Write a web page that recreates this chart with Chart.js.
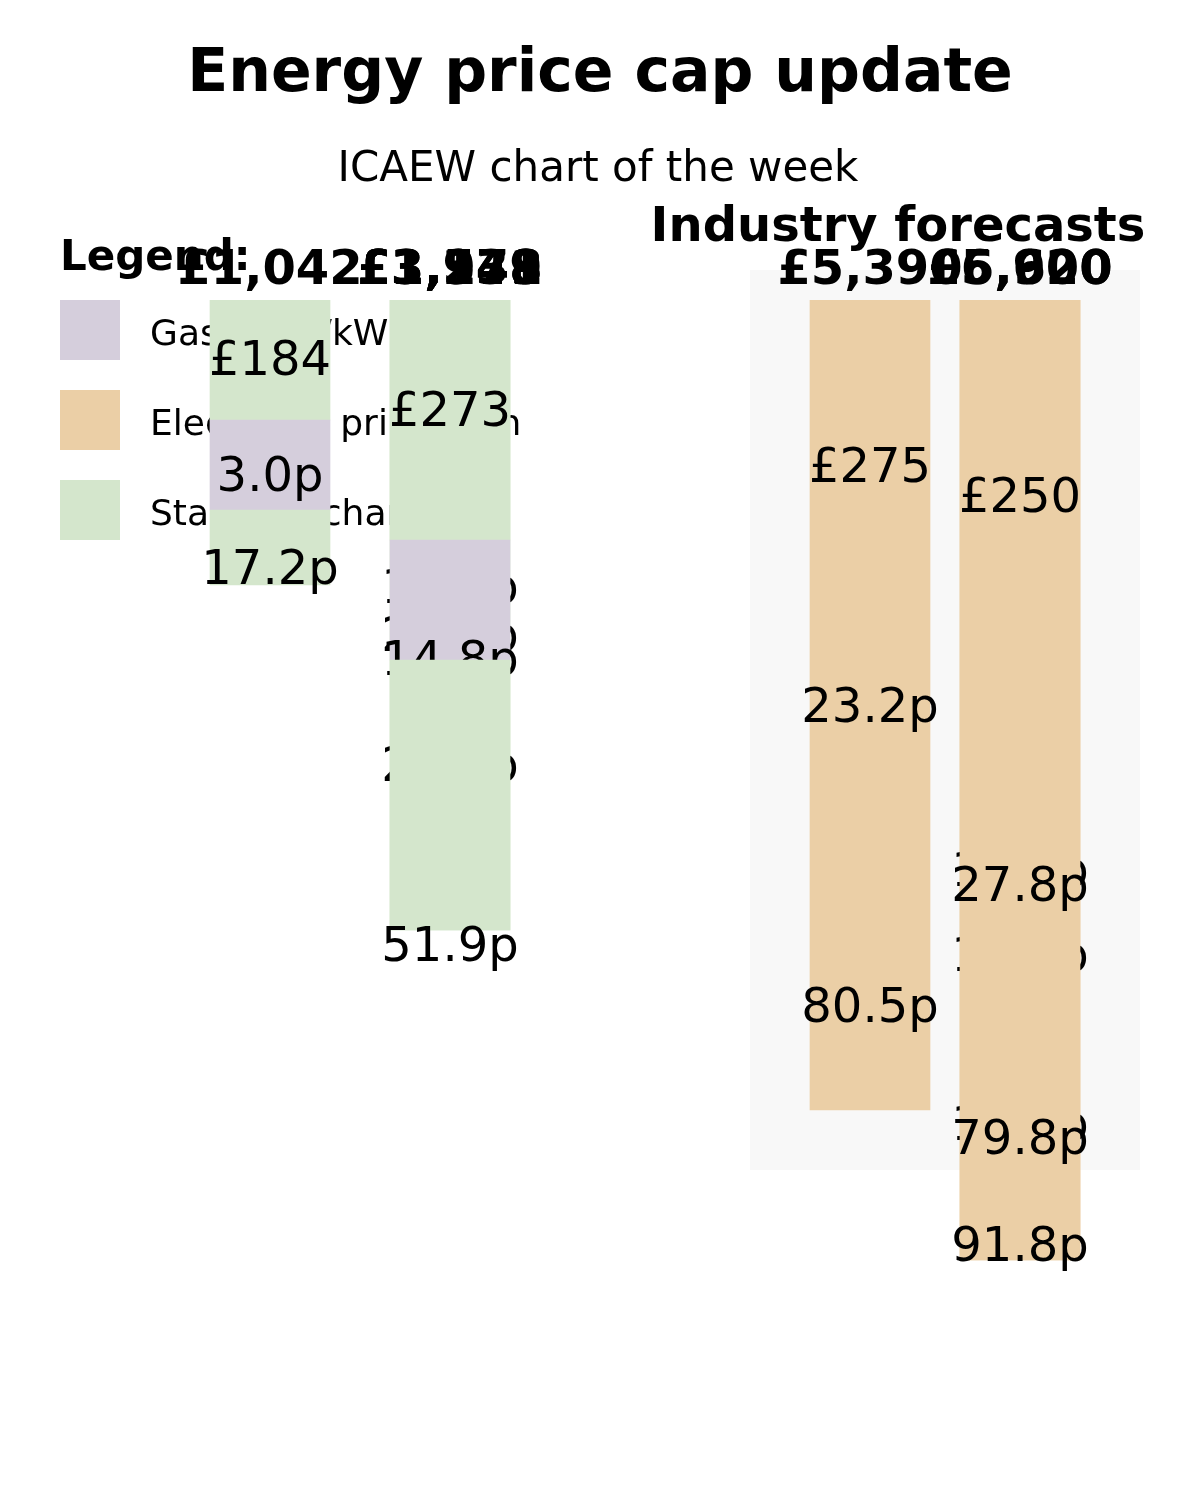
<!DOCTYPE html>
<html><head><meta charset="utf-8">
<script src="https://cdn.jsdelivr.net/npm/chart.js@4.4.1/dist/chart.umd.min.js"></script>
<style>html,body{margin:0;padding:0;background:#fff}#wrap{width:1200px;height:1500px;position:relative}</style>
</head><body><div id="wrap"><canvas id="c" width="1200" height="1500"></canvas></div>
<script>
// ---- data ----
const seriesNames = ['Gas price/kWh', 'Electricity price/kWh', 'Standing charge'];
const columnSlots = [9, 15, 29, 34];
const layerColumn = [0, 0, 0, 1, 1, 1, 1, 2, 3, 3];
const layerSeries = [2, 0, 2, 2, 2, 0, 2, 1, 1, 1];
const layerFrom = [0, 12, 21, 0, 0, 24, 36, 0, 0, 0];
const layerTo = [12, 21, 28.5, 63, 24, 36, 63, 81, 96, 96];
const layerTotals = ['£1,042', '', '', '£1,971', '£3,549', '£3,248', '£1,138', '£5,390', '£5,900', '£6,620'];
const layerLabelTexts = [['£184'], ['3.0p'], ['17.2p'], ['12.1p', '21.5p', '24.2p'], ['£273'], ['14.8p'], ['51.9p'],
  ['£275', '23.2p', '80.5p'], ['17.9p', '15.4p', '17.6p'], ['£250', '27.8p', '79.8p', '91.8p']];
const layerLabelDepths = [[5.7], [17.3], [26.6], [28.5, 33.3, 46.3], [10.8], [35.7], [64.3],
  [16.4, 40.4, 70.4], [56.8, 65.3, 82.2], [19.4, 58.3, 83.6, 94.3]];
const titleText = 'Energy price cap update';
const subtitleText = 'ICAEW chart of the week';
const panelTitle = 'Industry forecasts';
const legendTitle = 'Legend:';

// ---- styles ----
const seriesColors = ['#d5cedc', '#ebcfa6', '#d4e6cc'];
const FONT = '"DejaVu Sans", sans-serif';
const panelRange = { x0: 25, x1: 38, y0: -3, y1: 87 };

const N = layerFrom.length;
const datasets = layerFrom.map((f, i) => ({
  label: seriesNames[layerSeries[i]],
  data: [{ x: columnSlots[layerColumn[i]], y: [f, layerTo[i]] }],
  backgroundColor: seriesColors[layerSeries[i]],
  borderWidth: 0,
  barThickness: 120,
  grouped: false,
  order: N - i
}));

const overlay = {
  id: 'overlay',
  beforeDatasetsDraw(chart) {
    const ctx = chart.ctx, xs = chart.scales.x, ys = chart.scales.y;
    ctx.save();
    // forecast panel
    const px0 = xs.getPixelForValue(panelRange.x0), px1 = xs.getPixelForValue(panelRange.x1);
    const py0 = ys.getPixelForValue(panelRange.y0), py1 = ys.getPixelForValue(panelRange.y1);
    ctx.fillStyle = '#f8f8f8';
    ctx.fillRect(px0, py0, px1 - px0, py1 - py0);
    ctx.fillStyle = '#000';
    ctx.textAlign = 'center';
    ctx.textBaseline = 'alphabetic';
    ctx.font = 'bold 60px ' + FONT;
    ctx.fillText(titleText, 600, 91);
    ctx.font = '42px ' + FONT;
    ctx.fillText(subtitleText, 598, 181);
    ctx.font = 'bold 48px ' + FONT;
    ctx.fillText(panelTitle, 898, 241);
    // legend
    ctx.textAlign = 'left';
    ctx.font = 'bold 42px ' + FONT;
    ctx.fillText(legendTitle, 60, 270);
    ctx.font = '36px ' + FONT;
    seriesNames.forEach((n, k) => {
      const top = 300 + k * 90;
      ctx.fillStyle = seriesColors[k];
      ctx.fillRect(60, top, 60, 60);
      ctx.fillStyle = '#000';
      ctx.fillText(n, 150, top + 45);
    });
    ctx.restore();
  },
  afterDatasetDraw(chart, args) {
    const i = args.index;
    const el = args.meta.data[0];
    if (!el) return;
    const ctx = chart.ctx, ys = chart.scales.y;
    ctx.save();
    ctx.fillStyle = '#000';
    ctx.textAlign = 'center';
    ctx.textBaseline = 'alphabetic';
    ctx.font = '48px ' + FONT;
    layerLabelTexts[i].forEach((t, k) => {
      ctx.fillText(t, el.x, ys.getPixelForValue(layerLabelDepths[i][k]) + 17.5);
    });
    if (layerTotals[i]) {
      ctx.font = 'bold 48px ' + FONT;
      ctx.fillText(layerTotals[i], el.x, ys.getPixelForValue(0) - 16);
    }
    ctx.restore();
  }
};

new Chart(document.getElementById('c'), {
  type: 'bar',
  data: { datasets },
  options: {
    responsive: false,
    animation: false,
    devicePixelRatio: 1,
    layout: { padding: { top: 300, bottom: 200, left: 0, right: 0 } },
    plugins: { legend: { display: false }, tooltip: { enabled: false }, title: { display: false } },
    scales: {
      x: { type: 'linear', min: 0, max: 40, offset: false, display: false },
      y: { type: 'linear', min: 0, max: 100, reverse: true, display: false }
    }
  },
  plugins: [overlay]
});
</script></body></html>
